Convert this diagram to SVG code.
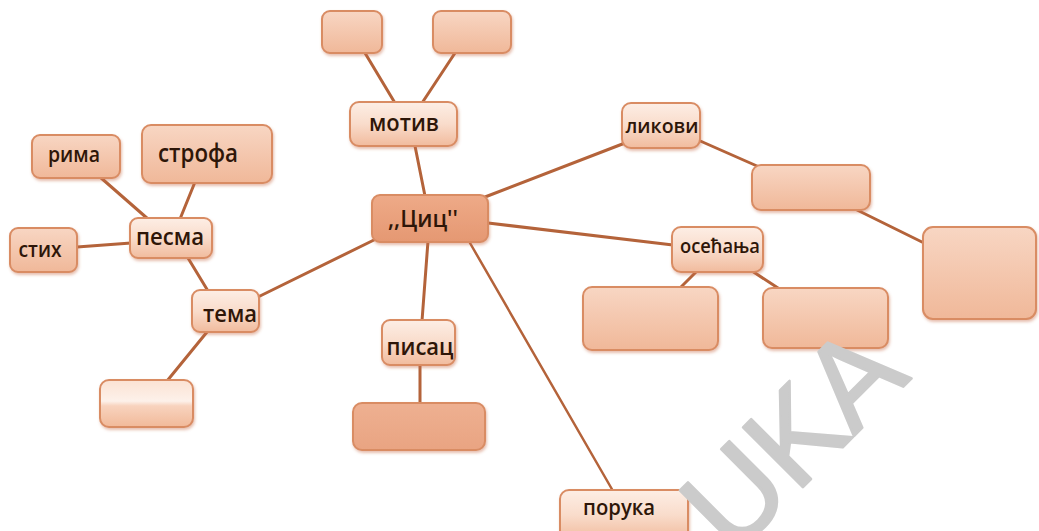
<svg xmlns="http://www.w3.org/2000/svg" width="1039" height="531" viewBox="0 0 1039 531">
<defs>
<linearGradient id="gLabel" x1="0" y1="0" x2="0" y2="1">
<stop offset="0" stop-color="#fdeee5"/><stop offset="0.5" stop-color="#f9dccb"/><stop offset="1" stop-color="#f1bb9d"/>
</linearGradient>
<linearGradient id="gEmpty" x1="0" y1="0" x2="0" y2="1">
<stop offset="0" stop-color="#f8d6c3"/><stop offset="1" stop-color="#f0b899"/>
</linearGradient>
<linearGradient id="gDark" x1="0" y1="0" x2="0" y2="1">
<stop offset="0" stop-color="#eeb091"/><stop offset="1" stop-color="#e9a482"/>
</linearGradient>
<linearGradient id="gMain" x1="0" y1="0" x2="0" y2="1">
<stop offset="0" stop-color="#eeaa88"/><stop offset="1" stop-color="#e59872"/>
</linearGradient>
<linearGradient id="gGloss" x1="0" y1="0" x2="0" y2="1">
<stop offset="0" stop-color="#fbe2d3"/><stop offset="0.45" stop-color="#fdf1ea"/><stop offset="0.55" stop-color="#f8d3be"/><stop offset="1" stop-color="#f1b999"/>
</linearGradient>
<filter id="sh" x="-10%" y="-10%" width="125%" height="130%">
<feDropShadow dx="1" dy="2" stdDeviation="1.5" flood-color="#c87048" flood-opacity="0.45"/>
</filter>
</defs>
<style>
.box{stroke:#d98c64;stroke-width:2;filter:url(#sh)}
.lbl{fill:url(#gLabel)}
.emp{fill:url(#gEmpty)}
.lnk{stroke:#b4633a;stroke-width:3;stroke-linecap:round;fill:none}
.t{font-family:"Open Sans","Noto Sans","Liberation Sans",sans-serif;font-weight:600;fill:#2e1608;text-anchor:middle}
.wm{font-family:"Liberation Sans",Arial,sans-serif;font-size:123px;fill:#cbcbcb;stroke:#cbcbcb;stroke-width:2.5;stroke-linejoin:round}
</style>
<rect width="1039" height="531" fill="#ffffff"/>
<g id="connectors">
<line class="lnk" x1="365" y1="53" x2="395" y2="103"/>
<line class="lnk" x1="455" y1="53" x2="422" y2="103"/>
<line class="lnk" x1="415" y1="146" x2="425" y2="196"/>
<line class="lnk" x1="100" y1="177" x2="148" y2="219"/>
<line class="lnk" x1="195" y1="182" x2="180" y2="219"/>
<line class="lnk" x1="77" y1="247" x2="131" y2="243"/>
<line class="lnk" x1="188" y1="258" x2="208" y2="291"/>
<line class="lnk" x1="258" y1="297" x2="378" y2="238"/>
<line class="lnk" x1="207" y1="332" x2="167" y2="381"/>
<line class="lnk" x1="428" y1="241" x2="422" y2="321"/>
<line class="lnk" x1="420" y1="364" x2="420" y2="404"/>
<line class="lnk" x1="485" y1="197" x2="625" y2="143"/>
<line class="lnk" x1="698" y1="140" x2="757" y2="166"/>
<line class="lnk" x1="853" y1="208" x2="924" y2="243"/>
<line class="lnk" x1="488" y1="223" x2="673" y2="245"/>
<line class="lnk" x1="697" y1="271" x2="680" y2="288"/>
<line class="lnk" x1="752" y1="271" x2="781" y2="290"/>
<line class="lnk" x1="470" y1="243" x2="613" y2="491" style="stroke-width:2.5"/>
</g>
<g id="n-motiv-a"><rect class="box emp" x="322" y="11" width="60" height="42" rx="8"/></g>
<g id="n-motiv-b"><rect class="box emp" x="433" y="11" width="78" height="42" rx="8"/></g>
<g id="n-motiv"><rect class="box lbl" x="350" y="102" width="107" height="44" rx="9"/><text class="t" x="404" y="131" font-size="24" textLength="70" lengthAdjust="spacingAndGlyphs">мотив</text></g>
<g id="n-rima"><rect class="box" fill="url(#gEmpty)" x="32" y="135" width="88" height="43" rx="8"/><text class="t" x="74" y="162" font-size="22" textLength="52" lengthAdjust="spacingAndGlyphs">рима</text></g>
<g id="n-strofa"><rect class="box emp" x="142" y="125" width="130" height="58" rx="9"/><text class="t" x="198" y="162" font-size="25" textLength="80" lengthAdjust="spacingAndGlyphs">строфа</text></g>
<g id="n-stih"><rect class="box emp" x="10" y="228" width="67" height="44" rx="8"/><text class="t" x="40" y="257" font-size="21" textLength="43" lengthAdjust="spacingAndGlyphs">стих</text></g>
<g id="n-pesma"><rect class="box lbl" x="130" y="218" width="82" height="40" rx="8"/><text class="t" x="170" y="245" font-size="23" textLength="68" lengthAdjust="spacingAndGlyphs">песма</text></g>
<g id="n-tema"><rect class="box lbl" x="192" y="290" width="67" height="42" rx="8"/><text class="t" x="230" y="322" font-size="23" textLength="54" lengthAdjust="spacingAndGlyphs">тема</text></g>
<g id="n-tema-a"><rect class="box" fill="url(#gGloss)" x="100" y="380" width="93" height="47" rx="9"/></g>
<g id="n-cic"><rect class="box" fill="url(#gMain)" stroke="#c97a52" x="372" y="195" width="116" height="47" rx="8"/><text class="t" x="423" y="227" font-size="23" textLength="70" lengthAdjust="spacingAndGlyphs">,,Циц''</text></g>
<g id="n-pisac"><rect class="box lbl" x="382" y="320" width="73" height="45" rx="8"/><text class="t" x="420" y="355" font-size="24" textLength="67" lengthAdjust="spacingAndGlyphs">писац</text></g>
<g id="n-pisac-a"><rect class="box" fill="url(#gDark)" x="353" y="403" width="132" height="47" rx="9"/></g>
<g id="n-likovi"><rect class="box lbl" x="622" y="103" width="78" height="45" rx="9"/><text class="t" x="662" y="133" font-size="20" textLength="73" lengthAdjust="spacingAndGlyphs">ликови</text></g>
<g id="n-likovi-a"><rect class="box emp" x="752" y="165" width="118" height="45" rx="9"/></g>
<g id="n-likovi-b"><rect class="box emp" x="923" y="227" width="113" height="92" rx="10"/></g>
<g id="n-osecanja"><rect class="box lbl" x="672" y="227" width="91" height="45" rx="9"/><text class="t" x="720" y="253" font-size="20" textLength="80" lengthAdjust="spacingAndGlyphs">осећања</text></g>
<g id="n-osecanja-a"><rect class="box emp" x="583" y="287" width="135" height="63" rx="9"/></g>
<g id="n-osecanja-b"><rect class="box emp" x="763" y="288" width="125" height="60" rx="9"/></g>
<g id="n-poruka"><rect class="box lbl" x="560" y="490" width="128" height="50" rx="9"/><text class="t" x="619" y="515" font-size="21" textLength="72" lengthAdjust="spacingAndGlyphs">порука</text></g>
<text class="wm" transform="translate(733,557) rotate(-45)">UKA</text>
</svg>
